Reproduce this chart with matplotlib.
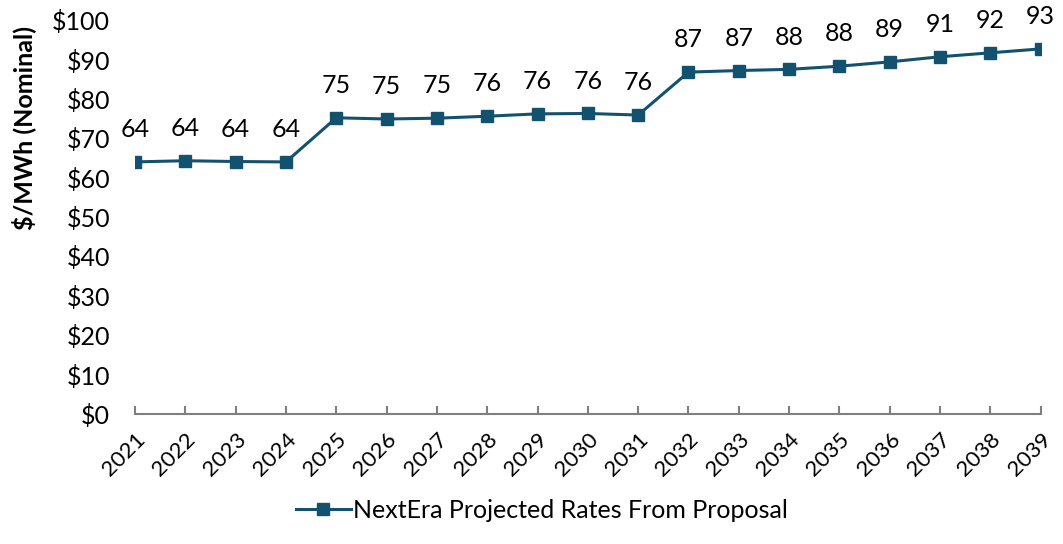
#!/usr/bin/env python3

import matplotlib
matplotlib.use("Agg")
import matplotlib.pyplot as plt

# ─── Data ──────────────────────────────────────────────────────────────────────
YEARS = [str(y) for y in range(2021, 2040)]
RATES = [64.0, 64.3, 64.1, 64.0, 75.2, 74.9, 75.1, 75.6, 76.2, 76.3, 75.9,
         86.8, 87.2, 87.5, 88.3, 89.4, 90.7, 91.7, 92.7]
SERIES_NAME = "NextEra Projected Rates From Proposal"
YTICKS = list(range(0, 101, 10))

LINE_COLOR = "#13526F"
plt.rcParams['font.family'] = ['Lato', 'DejaVu Sans']

# ─── Plot ──────────────────────────────────────────────────────────────────────
fig = plt.figure(figsize=(10.63, 5.44), dpi=100)
ax = fig.add_axes([0.127, 0.239, 0.852, 0.724])

x = list(range(len(YEARS)))
ax.plot(x, RATES, color=LINE_COLOR, lw=2.2, marker='s', ms=8,
        label=SERIES_NAME)

for xi, v in zip(x, RATES):
    ax.annotate(f"{v:.0f}", (xi, v), xytext=(0, 15), textcoords='offset points',
                ha='center', va='bottom', fontsize=18, color='black')

ax.set_xlim(0, len(YEARS) - 1)
ax.set_ylim(0, 100)
ax.set_xticks(x)
ax.set_xticklabels(YEARS, rotation=45, ha='right', rotation_mode='anchor',
                   fontsize=16)
ax.set_yticks(YTICKS)
ax.set_yticklabels([f"${t}" for t in YTICKS], fontsize=18)

# y label sits high, like in the original
fig.text(24 / 1063, 1 - 128 / 544, "$/MWh (Nominal)", rotation=90,
         ha='center', va='center', fontsize=18, fontweight='bold')

for s in ('left', 'top', 'right'):
    ax.spines[s].set_visible(False)
ax.spines['bottom'].set_color('#7F7F7F')
ax.spines['bottom'].set_linewidth(1.5)
ax.tick_params(axis='x', direction='in', length=6, width=1.5, color='#7F7F7F',
               pad=11)
ax.tick_params(axis='y', length=0, pad=18)

fig.legend(loc='lower center', bbox_to_anchor=(0.51, 0.0), frameon=False,
           fontsize=18, handlelength=2.2, handletextpad=0.1)

fig.savefig("out.png", dpi=100)
